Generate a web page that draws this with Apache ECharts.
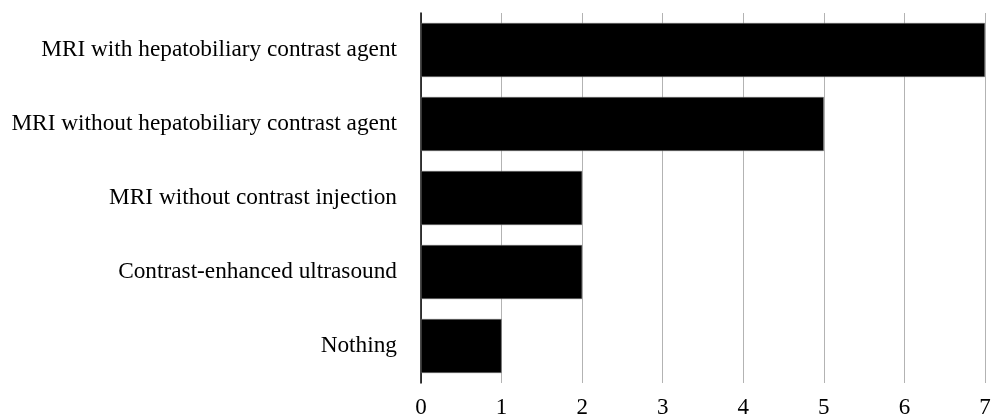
<!DOCTYPE html>
<html><head><meta charset="utf-8">
<script src="https://cdn.jsdelivr.net/npm/echarts@6/dist/echarts.min.js"></script>
<style>html,body{margin:0;padding:0;background:#fff}#c{width:1003px;height:419px}</style>
</head><body><div id="c"></div>
<script>
const categories = ["MRI with hepatobiliary contrast agent","MRI without hepatobiliary contrast agent","MRI without contrast injection","Contrast-enhanced ultrasound","Nothing"];
const values = [7,5,2,2,1];
const xTicks = [0,1,2,3,4,5,6,7];
const chart = echarts.init(document.getElementById('c'));
chart.setOption({
  animation:false,
  grid:{left:421,right:18,top:13,bottom:36,containLabel:false},
  xAxis:{type:'value',min:0,max:7,interval:1,
    axisLine:{show:false},axisTick:{show:false},
    splitLine:{show:true,lineStyle:{color:'#b3b3b3',width:1}},
    axisLabel:{fontFamily:'Liberation Serif',fontSize:23,color:'#000',margin:13,
      formatter:v=>xTicks.includes(v)?String(v):''}},
  yAxis:{type:'category',data:categories,inverse:true,
    axisLine:{show:true,lineStyle:{color:'#000',width:1.5}},axisTick:{show:false},
    axisLabel:{fontFamily:'Liberation Serif',fontSize:23.3,color:'#000',margin:24}},
  series:[{type:'bar',data:values,barCategoryGap:'27%',
    itemStyle:{color:'#000',borderColor:'#808080',borderWidth:0.5}}]
});
</script></body></html>
